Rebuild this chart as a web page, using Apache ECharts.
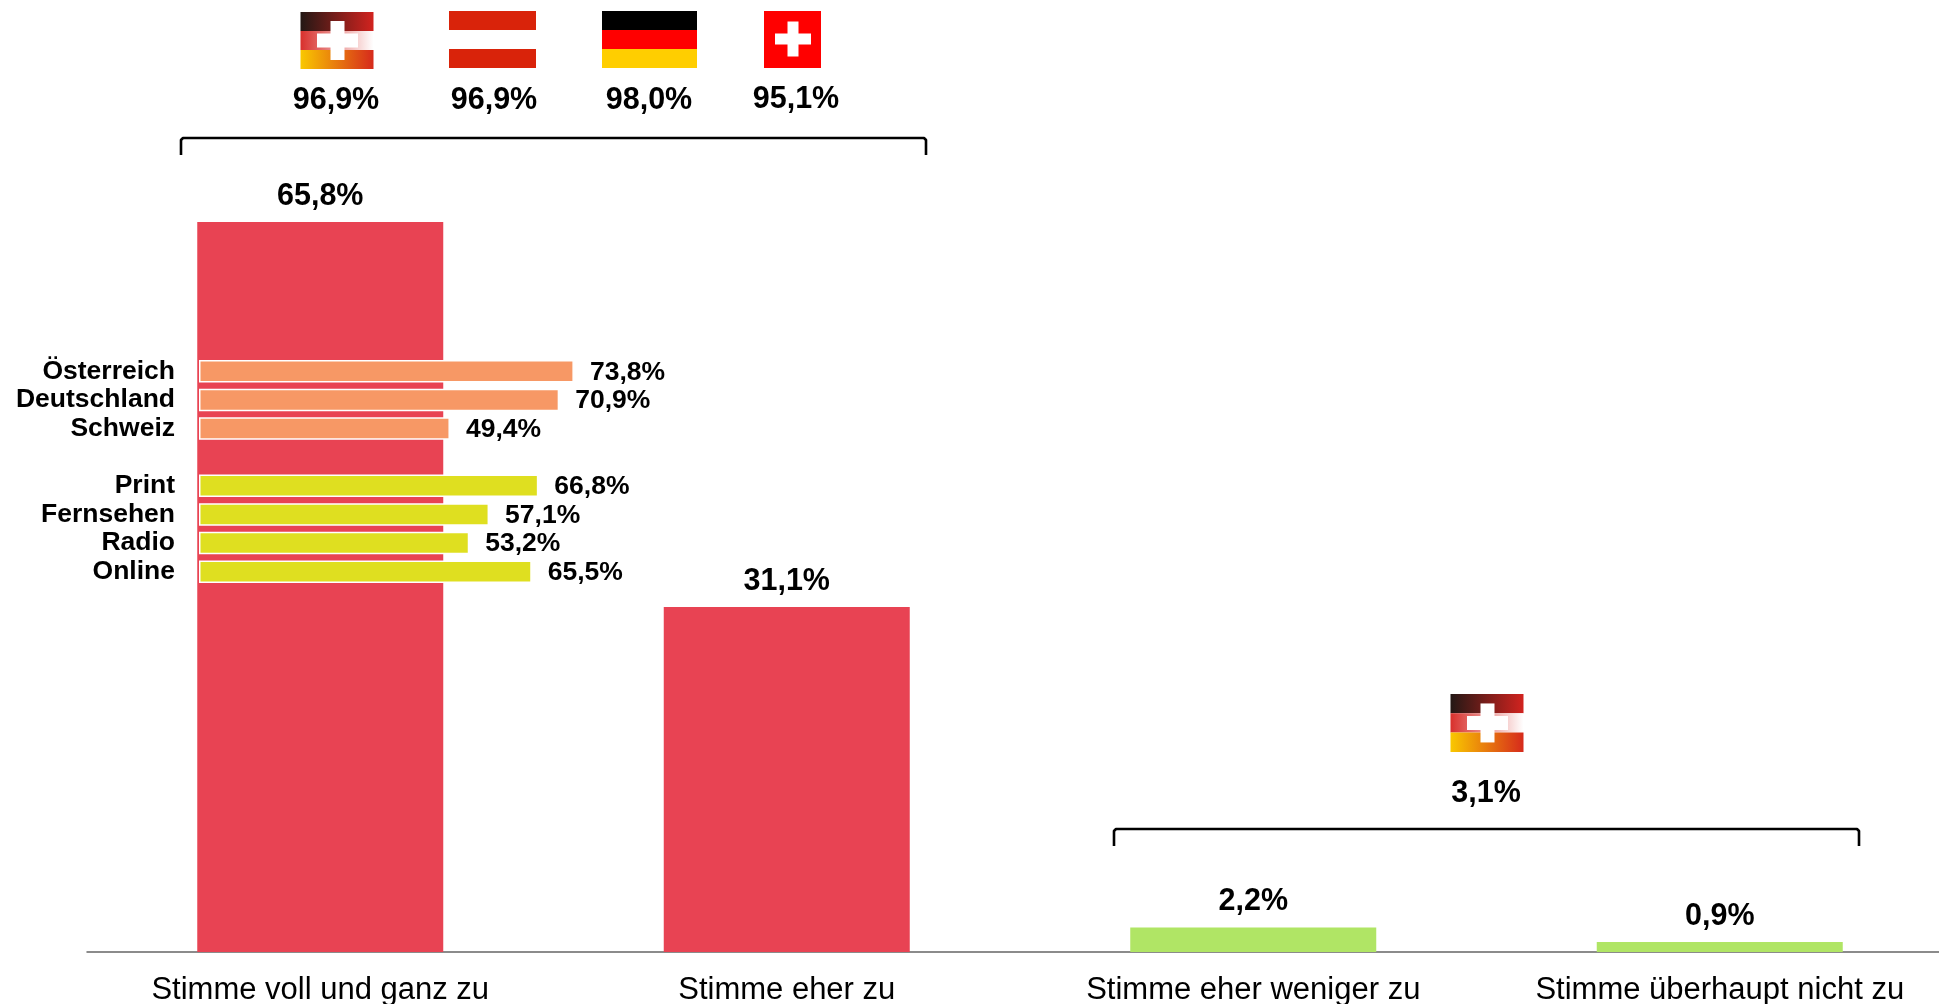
<!DOCTYPE html>
<html>
<head>
<meta charset="utf-8">
<style>
  html, body { margin: 0; padding: 0; background: #fff; }
  #main { width: 1939px; height: 1004px; }
</style>
<script src="https://cdn.jsdelivr.net/npm/echarts@6/dist/echarts.min.js"></script>
</head>
<body>
<div id="main"></div>
<script>
var answers = ['Stimme voll und ganz zu', 'Stimme eher zu', 'Stimme eher weniger zu', 'Stimme überhaupt nicht zu']
var agreeValues = [65.8, 31.1, null, null]
var disagreeValues = [null, null, 2.2, 0.9]

var countries = ['Österreich', 'Deutschland', 'Schweiz']
var countryValues = [73.8, 70.9, 49.4]
var media = ['Print', 'Fernsehen', 'Radio', 'Online']
var mediaValues = [66.8, 57.1, 53.2, 65.5]

// sums shown above the brackets
var agreeSums = [96.9, 96.9, 98.0, 95.1]
var disagreeSum = 3.1

var font = '"Liberation Sans", Arial, sans-serif'
var fmt = function (v) { return v.toFixed(1).replace('.', ',') + '%' }
var labelFmt = function (p) { return fmt(p.value) }

// one empty row between the two groups
var rows = countries.concat([''], media)
var countryRows = countryValues.concat([null, null, null, null, null])
var mediaRows = [null, null, null, null].concat(mediaValues)

function rect(x, y, w, h, fill) {
  return { type: 'rect', shape: { x: x, y: y, width: w, height: h }, style: { fill: fill }, silent: true }
}
function hGrad(a, b) {
  return { type: 'linear', x: 0, y: 0, x2: 1, y2: 0, colorStops: [{ offset: 0, color: a }, { offset: 1, color: b }] }
}
function topText(v, cx, cy) {
  return {
    type: 'text', x: cx, y: cy, silent: true,
    style: { text: fmt(v), font: 'bold 30.5px ' + font, fill: '#000', align: 'center', verticalAlign: 'middle' },
  }
}
function bracket(x1, x2, y1, y2) {
  return {
    type: 'polyline', silent: true,
    shape: { points: [[x1, y2], [x1, y1 + 2], [x1 + 2, y1], [x2 - 2, y1], [x2, y1 + 2], [x2, y2]] },
    style: { stroke: '#000', lineWidth: 2.6, fill: null, lineJoin: 'round' },
  }
}
function cross(cx, cy, armW, armH, thick) {
  return [rect(cx - thick / 2, cy - armH / 2, thick, armH, '#fff'), rect(cx - armW / 2, cy - thick / 2, armW, thick, '#fff')]
}
function comboFlag(x, y, h) {
  var w = 73
  return [
    rect(x, y, w, h, hGrad('#231815', '#d2231f')),
    rect(x, y + h, w, h, hGrad('#d8302c', '#ffffff')),
    rect(x, y + 2 * h, w, h, hGrad('#f9c800', '#d62a1c')),
  ].concat(cross(x + 37, y + 1.5 * h, 41, 39, 14))
}

var graphics = []
  .concat(comboFlag(300.5, 12, 19))
  .concat([
    rect(449, 11, 87, 19, '#d9230a'),
    rect(449, 49, 87, 19, '#d9230a'),
    rect(602, 11, 95, 19, '#000000'),
    rect(602, 30, 95, 19, '#ff0000'),
    rect(602, 49, 95, 19, '#ffce00'),
    rect(764, 11, 57, 57, '#ff0000'),
  ])
  .concat(cross(793, 39, 36, 35, 11))
  .concat(comboFlag(1450.5, 694, 19.3))
  .concat([
    topText(agreeSums[0], 336, 100.5),
    topText(agreeSums[1], 494, 100.5),
    topText(agreeSums[2], 649, 100.5),
    topText(agreeSums[3], 796, 99.5),
    topText(disagreeSum, 1486, 794),
    bracket(181, 926, 138, 155),
    bracket(1114, 1859, 829, 846),
  ])

var myChart = echarts.init(document.getElementById('main'), null, { renderer: 'canvas' })
var option = {
  animation: false,
  backgroundColor: '#fff',
  grid: [
    { left: 87, top: 0, right: -14, height: 952, outerBoundsMode: 'none' },
    { left: 199, top: 357, width: 508, height: 229, outerBoundsMode: 'none' },
  ],
  xAxis: [
    {
      type: 'category',
      gridIndex: 0,
      data: answers,
      axisLine: { lineStyle: { color: '#666', width: 1.5 } },
      axisTick: { show: false },
      axisLabel: { interval: 0, color: '#000', fontFamily: font, fontSize: 31, margin: 23 },
    },
    { type: 'value', gridIndex: 1, min: 0, max: 100, show: false },
  ],
  yAxis: [
    { type: 'value', gridIndex: 0, min: 0, max: 85.8, show: false },
    {
      type: 'category',
      gridIndex: 1,
      inverse: true,
      data: rows,
      axisLine: { show: false },
      axisTick: { show: false },
      axisLabel: { interval: 0, color: '#000', fontFamily: font, fontWeight: 'bold', fontSize: 26.5, margin: 24, padding: [5, 0, 0, 0] },
    },
  ],
  series: [
    {
      name: 'Zustimmung',
      type: 'bar',
      xAxisIndex: 0,
      yAxisIndex: 0,
      barWidth: 246,
      barGap: '-100%',
      data: agreeValues,
      itemStyle: { color: '#e84353' },
      label: { show: true, position: 'top', distance: 10, formatter: labelFmt, color: '#000', fontFamily: font, fontWeight: 'bold', fontSize: 30.5 },
    },
    {
      name: 'Ablehnung',
      type: 'bar',
      xAxisIndex: 0,
      yAxisIndex: 0,
      barWidth: 246,
      barGap: '-100%',
      data: disagreeValues,
      itemStyle: { color: '#b0e565' },
      label: { show: true, position: 'top', distance: 10, formatter: labelFmt, color: '#000', fontFamily: font, fontWeight: 'bold', fontSize: 30.5 },
    },
    {
      name: 'Länder',
      type: 'bar',
      xAxisIndex: 1,
      yAxisIndex: 1,
      z: 5,
      barWidth: 22.5,
      barGap: '-100%',
      data: countryRows,
      itemStyle: { color: '#f79865', borderColor: '#fff', borderWidth: 1.5 },
      label: { show: true, position: 'right', distance: 16, offset: [0, 1], formatter: labelFmt, color: '#000', fontFamily: font, fontWeight: 'bold', fontSize: 26.5 },
    },
    {
      name: 'Medien',
      type: 'bar',
      xAxisIndex: 1,
      yAxisIndex: 1,
      z: 5,
      barWidth: 22.5,
      barGap: '-100%',
      data: mediaRows,
      itemStyle: { color: '#dfdf20', borderColor: '#fff', borderWidth: 1.5 },
      label: { show: true, position: 'right', distance: 16, offset: [0, 1], formatter: labelFmt, color: '#000', fontFamily: font, fontWeight: 'bold', fontSize: 26.5 },
    },
  ],
  graphic: graphics,
}
option && myChart.setOption(option)
</script>
</body>
</html>
